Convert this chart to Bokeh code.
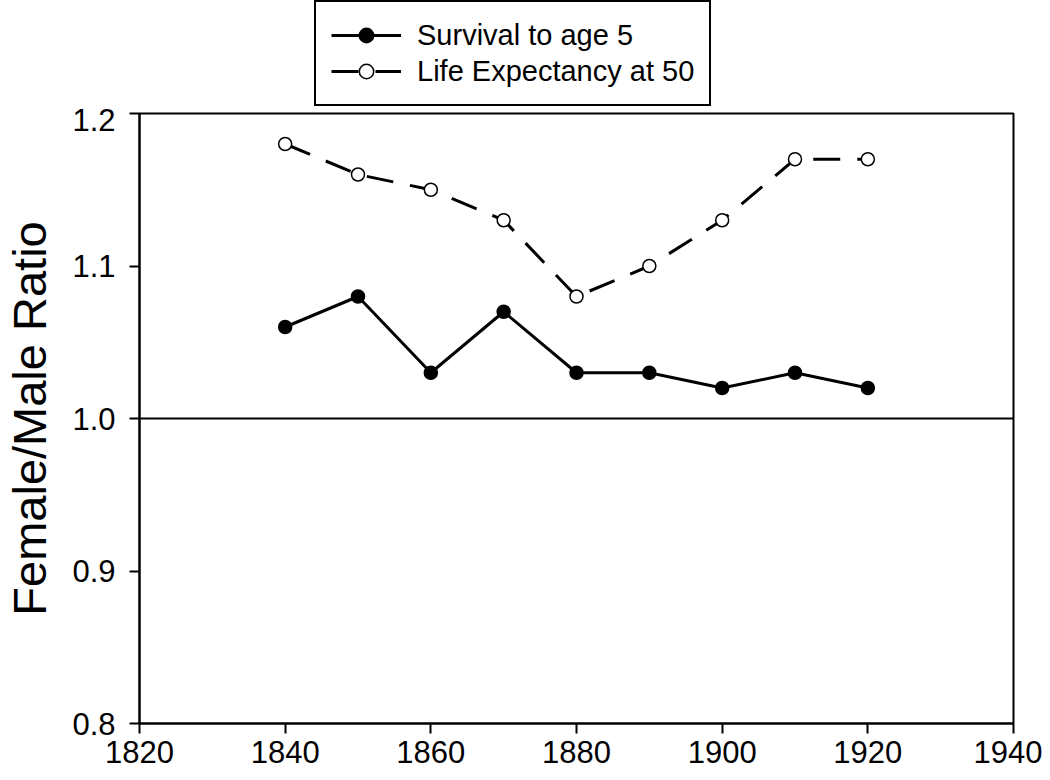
from bokeh.plotting import figure
from bokeh.layouts import column
from bokeh.models import Legend, LegendItem, Span, FixedTicker, ColumnDataSource, Range1d
from bokeh.embed import file_html
from bokeh.resources import INLINE

years = [1840, 1850, 1860, 1870, 1880, 1890, 1900, 1910, 1920]
survival_to_5 = [1.06, 1.08, 1.03, 1.07, 1.03, 1.03, 1.02, 1.03, 1.02]
life_exp_50 = [1.18, 1.16, 1.15, 1.13, 1.08, 1.10, 1.13, 1.17, 1.17]
x_ticks = [1820, 1840, 1860, 1880, 1900, 1920, 1940]
y_ticks = [0.8, 0.9, 1.0, 1.1, 1.2]
series_labels = ["Survival to age 5", "Life Expectancy at 50"]

FONT = "Liberation Sans"

src = ColumnDataSource(dict(year=years, surv=survival_to_5, life=life_exp_50))

SOLID = dict(line_color="black", line_width=3)
DASH = dict(line_color="black", line_width=3, line_dash="27 17")
FILLED = dict(size=13, fill_color="black", line_color="black", line_width=1.5)
OPEN = dict(size=13, fill_color="white", line_color="black", line_width=1.5)

# ---- main chart ----
p = figure(frame_width=874, frame_height=610, output_backend="svg", toolbar_location=None,
           x_range=(1820, 1940), y_range=(0.8, 1.2),
           min_border_left=137, min_border_right=29, min_border_top=5, min_border_bottom=0)
p.background_fill_color = "white"
p.border_fill_color = "white"
p.grid.visible = False
p.outline_line_color = "black"
p.outline_line_width = 2

for ax in (p.xaxis, p.yaxis):
    ax.axis_line_width = 2
    ax.major_tick_line_width = 2
    ax.major_tick_out = 10
    ax.major_tick_in = 0
    ax.minor_tick_line_color = None
    ax.major_label_text_font = FONT
    ax.major_label_text_font_size = "31px"
    ax.major_label_text_color = "black"

p.xaxis.ticker = FixedTicker(ticks=x_ticks)
p.yaxis.ticker = FixedTicker(ticks=y_ticks)
p.yaxis.major_label_overrides = {0.8: "0.8", 0.9: "0.9", 1.0: "1.0", 1.1: "1.1", 1.2: "1.2"}
p.xaxis.major_label_standoff = 7
p.yaxis.major_label_standoff = 14
p.yaxis.axis_label = "Female/Male Ratio"
p.yaxis.axis_label_text_font = FONT
p.yaxis.axis_label_text_font_size = "47px"
p.yaxis.axis_label_text_font_style = "normal"
p.yaxis.axis_label_text_color = "black"
p.yaxis.axis_label_standoff = 13

p.add_layout(Span(location=1.0, dimension="width", line_color="black", line_width=2))

p.line("year", "surv", source=src, **SOLID)
p.scatter("year", "surv", source=src, **FILLED)
p.line("year", "life", source=src, **DASH)
p.scatter("year", "life", source=src, **OPEN)

# ---- legend strip above the chart (series drawn out of view, only the legend shows) ----
top = figure(frame_width=874, frame_height=108, output_backend="svg", toolbar_location=None,
             x_range=Range1d(1820, 1940), y_range=Range1d(100, 101),
             x_axis_type=None, y_axis_type=None,
             min_border_left=137, min_border_right=29, min_border_top=0, min_border_bottom=0)
top.grid.visible = False
top.outline_line_color = None
top.background_fill_color = "white"
top.border_fill_color = "white"

k1 = top.line("year", "surv", source=src, **SOLID)
k2 = top.scatter("year", "surv", source=src, **FILLED)
k3 = top.line("year", "life", source=src, **DASH)
k4 = top.scatter("year", "life", source=src, **OPEN)

legend = Legend(items=[LegendItem(label=series_labels[0], renderers=[k1, k2]),
                       LegendItem(label=series_labels[1], renderers=[k3, k4])],
                location=(175, 2), orientation="vertical")
legend.label_text_font = FONT
legend.label_text_font_size = "29px"
legend.label_text_color = "black"
legend.glyph_width = 70
legend.glyph_height = 36
legend.label_height = 36
legend.label_standoff = 16
legend.spacing = 0
legend.padding = 15
legend.margin = 0
legend.border_line_color = "black"
legend.border_line_alpha = 1.0
legend.border_line_width = 2
legend.background_fill_color = "white"
legend.background_fill_alpha = 1.0
top.add_layout(legend, "center")

layout = column(top, p, spacing=0)
open("out.html", "w").write(file_html(layout, INLINE))
